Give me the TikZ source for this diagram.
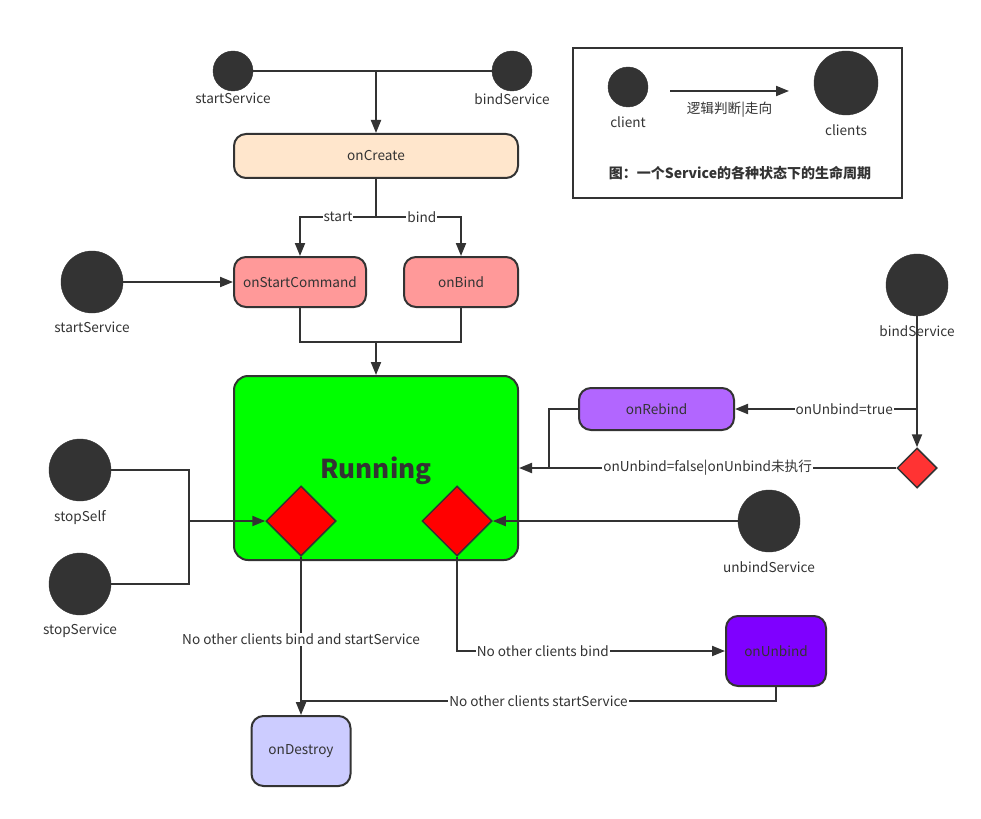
\documentclass[tikz,border=0pt]{standalone}
\usepackage{fontspec}
\setmainfont{Noto Sans CJK SC}
\usetikzlibrary{shapes.geometric,arrows.meta}
\definecolor{ink}{HTML}{333333}
\definecolor{createfill}{HTML}{FFE6CC}
\definecolor{callfill}{HTML}{FF9999}
\definecolor{runfill}{HTML}{00FF00}
\definecolor{rebindfill}{HTML}{B266FF}
\definecolor{unbindfill}{HTML}{7F00FF}
\definecolor{destroyfill}{HTML}{CCCCFF}
\definecolor{flagfill}{HTML}{FF3333}
\tikzset{
  client/.style={circle,fill=ink,draw=ink,minimum size=40pt,inner sep=0pt,
    label={[inner sep=2pt,label distance=0pt]below:#1}},
  bigclient/.style={circle,fill=ink,draw=ink,minimum size=62pt,inner sep=0pt,
    label={[inner sep=2pt,label distance=7pt]below:#1}},
  state/.style={draw=ink,line width=2pt,rounded corners=12pt,inner sep=2pt},
  choice/.style={diamond,draw=ink,line width=1.5pt,fill=red,minimum width=70pt,minimum height=70pt,inner sep=0pt},
  wire/.style={draw=ink,line width=2pt},
  arr/.style={wire,-{Triangle[length=13pt,width=10pt]}},
  lab/.style={fill=white,inner sep=1pt}
}
\begin{document}
\begin{tikzpicture}[x=1pt,y=-1pt, every node/.style={font=\fontsize{13.6}{16}\selectfont, text=ink}]
\useasboundingbox (0,0) rectangle (981,818);
% legend
\node[draw=ink,line width=2pt,minimum width=329pt,minimum height=150pt] (legend) at (737.5,123) {};
\node[circle,fill=ink,draw=ink,minimum size=40pt,inner sep=0pt,
  label={[inner sep=2pt,label distance=7pt]below:client}] (lone) at (628,87) {};
\node[bigclient=clients,minimum size=64pt] (lmany) at (846,83) {};
\coordinate (la) at (670,91); \coordinate (lb) at (789,91);
\draw[arr] (la) -- node[below=9pt,inner sep=1pt] {逻辑判断|走向} (lb);
\node[font=\fontsize{14}{16}\selectfont\bfseries] (cap) at (740,173) {图：一个Service的各种状态下的生命周期};
% states
\node[client=startService] (ssTop) at (233,71) {};
\node[client=bindService] (bsTop) at (512,71) {};
\node[state,fill=createfill,minimum width=284pt,minimum height=44pt] (create) at (376,156) {onCreate};
\node[state,fill=callfill,minimum width=132pt,minimum height=50pt] (cmd) at (300,282) {onStartCommand};
\node[state,fill=callfill,minimum width=114pt,minimum height=50pt] (bind) at (461,282) {onBind};
\node[bigclient=startService] (ssLeft) at (92,282) {};
\node[state,fill=runfill,minimum width=284pt,minimum height=184pt,rounded corners=14pt] (run) at (376,468) {};
\node[font=\fontsize{26}{30}\selectfont\bfseries] (runlab) at (376,471) {Running};
\node[choice] (dl) at (301,521) {};
\node[choice] (dr) at (457,521) {};
\node[bigclient=stopSelf] (self) at (80,470) {};
\node[bigclient=stopService] (stop) at (80,584) {};
\node[state,fill=rebindfill,minimum width=155pt,minimum height=42pt] (rebind) at (656.5,409) {onRebind};
\node[bigclient=bindService] (bsRight) at (917,285) {};
\node[choice,fill=flagfill,minimum width=40pt,minimum height=40pt] (check) at (917,468) {};
\node[bigclient=unbindService] (ubs) at (769,521) {};
\node[state,fill=unbindfill,minimum width=100pt,minimum height=70pt] (unbind) at (776,651) {onUnbind};
\node[state,fill=destroyfill,minimum width=99pt,minimum height=70pt] (destroy) at (301,751) {onDestroy};
% junctions
\coordinate (top) at (376,71);
\coordinate (fork) at (376,217);
\coordinate (join) at (376,342);
\coordinate (stopj) at (189,521);
\coordinate (tj) at (917,409);
\coordinate (rj) at (549,468);
\coordinate (dj) at (301,701);
% connectors
\draw[wire] (ssTop) -- (bsTop);
\draw[arr] (top) -- (create);
\draw[wire] (create) -- (fork);
\draw[arr] (fork) -| node[lab,pos=.25] {start} (cmd);
\draw[arr] (fork) -| node[lab,pos=.27] {bind} (bind);
\draw[arr] (ssLeft) -- (cmd);
\draw[wire] (cmd) |- (join);
\draw[wire] (bind) |- (join);
\draw[arr] (join) -- (run);
\draw[wire] (self) -| (stopj);
\draw[wire] (stop) -| (stopj);
\draw[arr] (stopj) -- (dl);
\draw[arr] (bsRight) -- (check);
\draw[arr] (tj) -- node[lab,pos=.4] {onUnbind=true} (rebind);
\draw[arr] (check) -- node[lab] {onUnbind=false|onUnbind未执行} (run);
\draw[wire] (rebind) -| (rj);
\draw[arr] (ubs) -- (dr);
\draw[arr] (dl) -- node[lab,pos=.52] {No other clients bind and startService} (destroy);
\draw[arr] (dr) |- node[lab,pos=.66] {No other clients bind} (unbind);
\draw[wire] (unbind) |- node[lab,pos=.75] {No other clients startService} (dj);
\end{tikzpicture}
\end{document}
